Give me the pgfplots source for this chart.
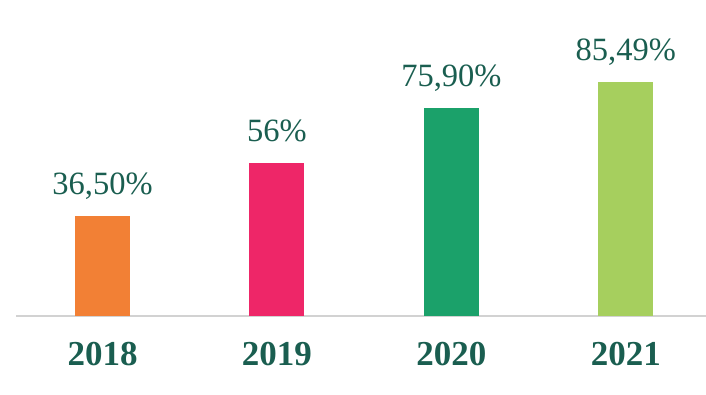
\documentclass[border=0pt]{standalone}
\usepackage{pgfplots}
\pgfplotsset{compat=1.18}
\usepackage{fontspec}
\setmainfont{Liberation Serif}
\definecolor{cOr}{HTML}{F28035}
\definecolor{cPk}{HTML}{EE2668}
\definecolor{cGr}{HTML}{1BA16A}
\definecolor{cLg}{HTML}{A6CF5E}
\definecolor{cTx}{HTML}{1A5E50}
\begin{document}
\begin{tikzpicture}
\begin{axis}[
  name=ax,
  at={(16pt,79pt)}, anchor=south west,
  scale only axis, width=690pt, height=316pt,
  xmin=-0.496, xmax=3.46, ymin=0, ymax=115.3,
  axis y line=none,
  axis x line*=bottom,
  x axis line style={draw=gray!35, line width=1.2pt, -},
  xtick={0,1,2,3},
  xticklabels={2018,2019,2020,2021},
  major tick length=0pt,
  xticklabel style={anchor=base, yshift=-50pt, font=\fontsize{35}{35}\selectfont\bfseries, text=cTx},
  ybar, bar width=55pt, bar shift=0pt,
  clip=false,
  nodes near coords style={anchor=base, yshift=21pt, font=\fontsize{32.5}{32.5}\selectfont, text=cTx},
]
\addplot[fill=cOr, draw=none, nodes near coords={36,50\%}] coordinates {(0,36.5)};
\addplot[fill=cPk, draw=none, nodes near coords={56\%}] coordinates {(1,56)};
\addplot[fill=cGr, draw=none, nodes near coords={75,90\%}] coordinates {(2,75.9)};
\addplot[fill=cLg, draw=none, nodes near coords={85,49\%}] coordinates {(3,85.49)};
\end{axis}
\pgfresetboundingbox
\path[use as bounding box] (0,0) rectangle (706pt,395pt);
\end{tikzpicture}
\end{document}
